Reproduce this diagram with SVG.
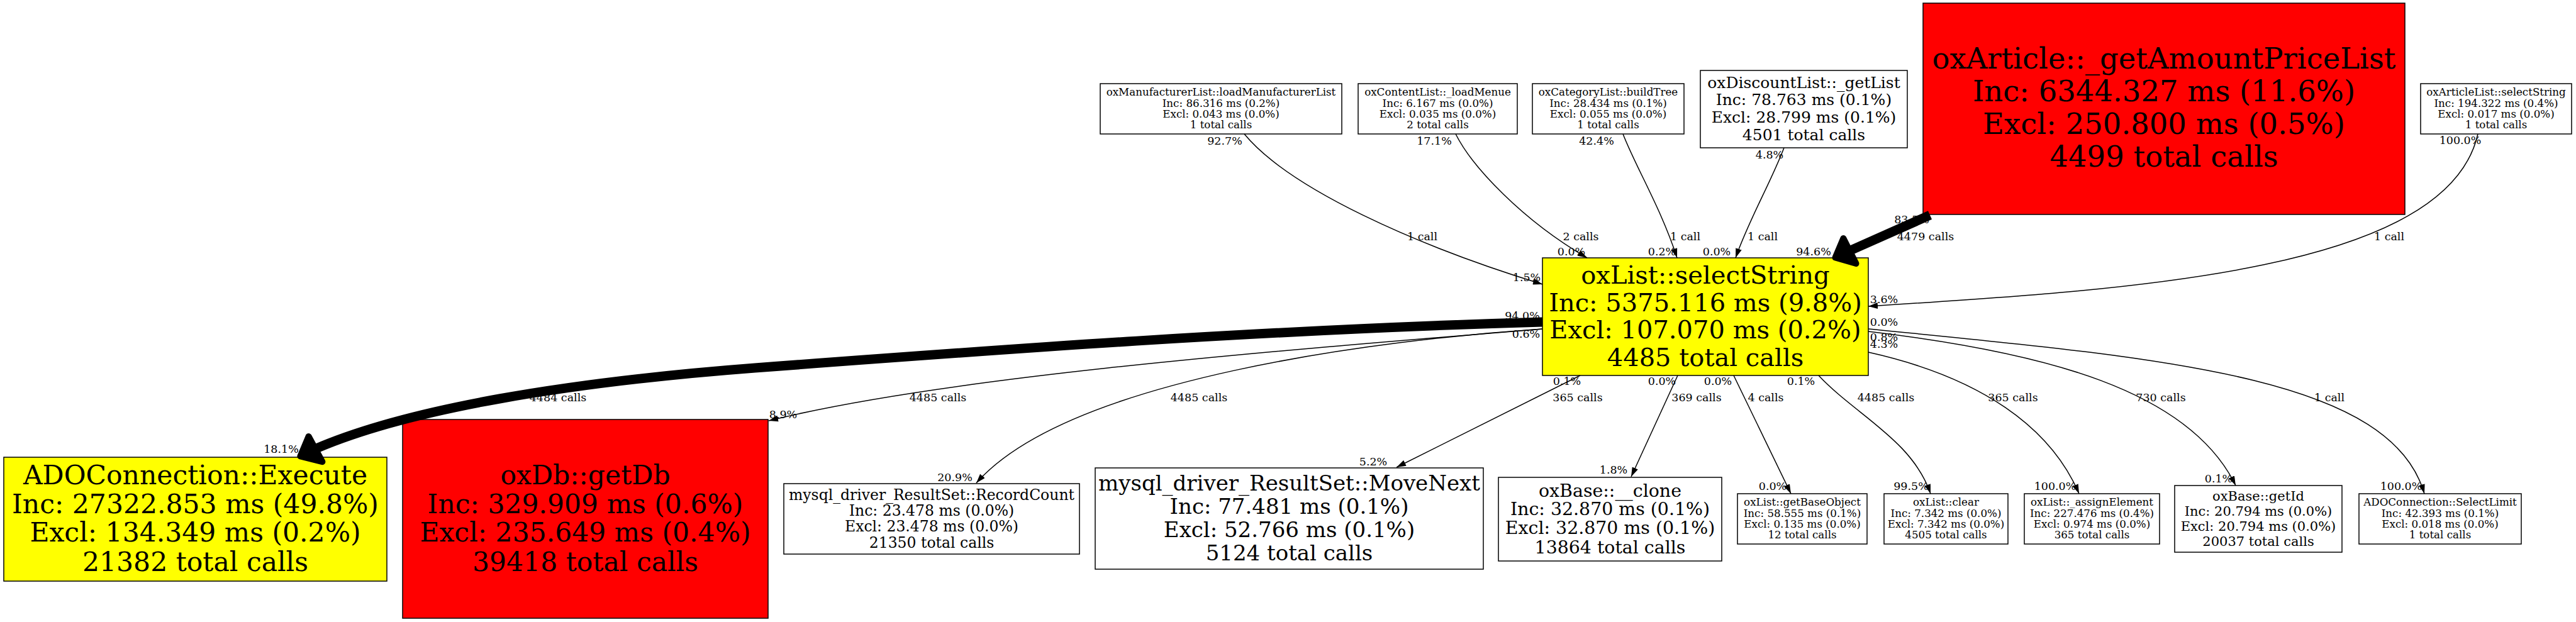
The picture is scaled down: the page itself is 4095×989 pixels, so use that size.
<svg xmlns="http://www.w3.org/2000/svg" width="4095" height="989" viewBox="0 0 4095 989">
<style>
.box{stroke:#000;stroke-width:1.5}
.w{fill:#fff}.r{fill:#ff0000}.y{fill:#ffff00}
text{font-family:"DejaVu Serif","Liberation Serif",serif;text-anchor:middle;fill:#000}
.s{font-size:16.7px}.l{font-size:17.5px}
.e{fill:none;stroke:#000;stroke-width:1.5}
.thick{fill:none;stroke:#000;stroke-width:15}
.head{fill:#000;stroke:#000;stroke-width:10;stroke-linejoin:round}
</style>
<defs>
<marker id="arr" markerUnits="userSpaceOnUse" markerWidth="15" markerHeight="10" refX="15" refY="5" orient="auto"><path d="M0,0 L15,5 L0,10 z" fill="#000"/></marker>
</defs>
<rect width="4095" height="989" fill="#fff"/>
<g id="nodes">
<g id="n_manuf"><rect class="box w" x="1749" y="133" width="384" height="80"/>
<text class="s"><tspan x="1941" y="152">oxManufacturerList::loadManufacturerList</tspan><tspan x="1941" y="169.5">Inc: 86.316 ms (0.2%)</tspan><tspan x="1941" y="187">Excl: 0.043 ms (0.0%)</tspan><tspan x="1941" y="204">1 total calls</tspan></text></g>
<g id="n_content"><rect class="box w" x="2159" y="133" width="253" height="80"/>
<text class="s"><tspan x="2285.5" y="152">oxContentList::_loadMenue</tspan><tspan x="2285.5" y="169.5">Inc: 6.167 ms (0.0%)</tspan><tspan x="2285.5" y="187">Excl: 0.035 ms (0.0%)</tspan><tspan x="2285.5" y="204">2 total calls</tspan></text></g>
<g id="n_category"><rect class="box w" x="2436" y="133" width="241" height="80"/>
<text class="s"><tspan x="2556.5" y="152">oxCategoryList::buildTree</tspan><tspan x="2556.5" y="169.5">Inc: 28.434 ms (0.1%)</tspan><tspan x="2556.5" y="187">Excl: 0.055 ms (0.0%)</tspan><tspan x="2556.5" y="204">1 total calls</tspan></text></g>
<g id="n_discount"><rect class="box w" x="2703" y="112" width="329" height="123"/>
<text style="font-size:25px"><tspan x="2867.5" y="139.5">oxDiscountList::_getList</tspan><tspan x="2867.5" y="167">Inc: 78.763 ms (0.1%)</tspan><tspan x="2867.5" y="195">Excl: 28.799 ms (0.1%)</tspan><tspan x="2867.5" y="222.5">4501 total calls</tspan></text></g>
<g id="n_article"><rect class="box r" x="3057" y="5" width="766" height="336"/>
<text style="font-size:46.5px"><tspan x="3440" y="109">oxArticle::_getAmountPriceList</tspan><tspan x="3440" y="161">Inc: 6344.327 ms (11.6%)</tspan><tspan x="3440" y="213">Excl: 250.800 ms (0.5%)</tspan><tspan x="3440" y="265">4499 total calls</tspan></text></g>
<g id="n_articlelist"><rect class="box w" x="3848" y="133" width="240" height="80"/>
<text class="s"><tspan x="3968" y="152">oxArticleList::selectString</tspan><tspan x="3968" y="169.5">Inc: 194.322 ms (0.4%)</tspan><tspan x="3968" y="187">Excl: 0.017 ms (0.0%)</tspan><tspan x="3968" y="204">1 total calls</tspan></text></g>
<g id="n_select"><rect class="box y" x="2452" y="410" width="518" height="187"/>
<text style="font-size:40px"><tspan x="2711" y="451">oxList::selectString</tspan><tspan x="2711" y="494.5">Inc: 5375.116 ms (9.8%)</tspan><tspan x="2711" y="538">Excl: 107.070 ms (0.2%)</tspan><tspan x="2711" y="581.5">4485 total calls</tspan></text></g>
<g id="n_execute"><rect class="box y" x="6" y="727" width="609" height="197"/>
<text style="font-size:42.5px"><tspan x="310.5" y="769.5">ADOConnection::Execute</tspan><tspan x="310.5" y="815.7">Inc: 27322.853 ms (49.8%)</tspan><tspan x="310.5" y="861.2">Excl: 134.349 ms (0.2%)</tspan><tspan x="310.5" y="907.5">21382 total calls</tspan></text></g>
<g id="n_getdb"><rect class="box r" x="640" y="667" width="581" height="316"/>
<text style="font-size:42.5px"><tspan x="930.5" y="769.5">oxDb::getDb</tspan><tspan x="930.5" y="815.7">Inc: 329.909 ms (0.6%)</tspan><tspan x="930.5" y="861.2">Excl: 235.649 ms (0.4%)</tspan><tspan x="930.5" y="907.5">39418 total calls</tspan></text></g>
<g id="n_recordcount"><rect class="box w" x="1246" y="769" width="470" height="112"/>
<text style="font-size:23.5px"><tspan x="1481" y="795">mysql_driver_ResultSet::RecordCount</tspan><tspan x="1481" y="820">Inc: 23.478 ms (0.0%)</tspan><tspan x="1481" y="845">Excl: 23.478 ms (0.0%)</tspan><tspan x="1481" y="870.5">21350 total calls</tspan></text></g>
<g id="n_movenext"><rect class="box w" x="1741" y="744" width="617" height="161"/>
<text style="font-size:34px"><tspan x="2049.5" y="780">mysql_driver_ResultSet::MoveNext</tspan><tspan x="2049.5" y="817">Inc: 77.481 ms (0.1%)</tspan><tspan x="2049.5" y="854">Excl: 52.766 ms (0.1%)</tspan><tspan x="2049.5" y="890.5">5124 total calls</tspan></text></g>
<g id="n_clone"><rect class="box w" x="2382" y="759" width="355" height="133"/>
<text style="font-size:28.4px"><tspan x="2559.5" y="789.5">oxBase::__clone</tspan><tspan x="2559.5" y="819">Inc: 32.870 ms (0.1%)</tspan><tspan x="2559.5" y="849">Excl: 32.870 ms (0.1%)</tspan><tspan x="2559.5" y="879.5">13864 total calls</tspan></text></g>
<g id="n_getbaseobject"><rect class="box w" x="2762" y="785" width="206" height="80"/>
<text class="s"><tspan x="2865" y="804.3">oxList::getBaseObject</tspan><tspan x="2865" y="821.9">Inc: 58.555 ms (0.1%)</tspan><tspan x="2865" y="839.1">Excl: 0.135 ms (0.0%)</tspan><tspan x="2865" y="856">12 total calls</tspan></text></g>
<g id="n_clear"><rect class="box w" x="2995" y="785" width="197" height="80"/>
<text class="s"><tspan x="3093.5" y="804.3">oxList::clear</tspan><tspan x="3093.5" y="821.9">Inc: 7.342 ms (0.0%)</tspan><tspan x="3093.5" y="839.1">Excl: 7.342 ms (0.0%)</tspan><tspan x="3093.5" y="856">4505 total calls</tspan></text></g>
<g id="n_assign"><rect class="box w" x="3218" y="785" width="215" height="80"/>
<text class="s"><tspan x="3325.5" y="804.3">oxList::_assignElement</tspan><tspan x="3325.5" y="821.9">Inc: 227.476 ms (0.4%)</tspan><tspan x="3325.5" y="839.1">Excl: 0.974 ms (0.0%)</tspan><tspan x="3325.5" y="856">365 total calls</tspan></text></g>
<g id="n_getid"><rect class="box w" x="3457" y="772" width="266" height="106"/>
<text style="font-size:21px"><tspan x="3590" y="796">oxBase::getId</tspan><tspan x="3590" y="819.5">Inc: 20.794 ms (0.0%)</tspan><tspan x="3590" y="843.5">Excl: 20.794 ms (0.0%)</tspan><tspan x="3590" y="867.5">20037 total calls</tspan></text></g>
<g id="n_selectlimit"><rect class="box w" x="3750" y="785" width="258" height="80"/>
<text class="s"><tspan x="3879" y="804.3">ADOConnection::SelectLimit</tspan><tspan x="3879" y="821.9">Inc: 42.393 ms (0.1%)</tspan><tspan x="3879" y="839.1">Excl: 0.018 ms (0.0%)</tspan><tspan x="3879" y="856">1 total calls</tspan></text></g>
</g>
<g id="connectors">
<g id="edge-labels" class="l">
<text class="l" x="1947" y="229.5">92.7%</text>
<text class="l" x="2280" y="229.5">17.1%</text>
<text class="l" x="2538" y="229.5">42.4%</text>
<text class="l" x="2813" y="251.5">4.8%</text>
<text class="l" x="3911" y="228.5">100.0%</text>
<text class="l" x="3039" y="355">83.5%</text>
<text class="l" x="2261" y="381.5">1 call</text>
<text class="l" x="2513" y="381.5">2 calls</text>
<text class="l" x="2679" y="381.5">1 call</text>
<text class="l" x="2802" y="381.5">1 call</text>
<text class="l" x="3061" y="381.5">4479 calls</text>
<text class="l" x="3798" y="381.5">1 call</text>
<text class="l" x="2498" y="405.5">0.0%</text>
<text class="l" x="2642" y="405.5">0.2%</text>
<text class="l" x="2729" y="405.5">0.0%</text>
<text class="l" x="2883" y="405.5">94.6%</text>
<text class="l" x="2427" y="446.5">1.5%</text>
<text class="l" x="2995" y="481.5">3.6%</text>
<text class="l" x="2420" y="508">94.0%</text>
<text class="l" x="2426" y="536.5">0.6%</text>
<text class="l" x="2995" y="518">0.0%</text>
<text class="l" x="2995" y="541.5">0.8%</text>
<text class="l" x="2995" y="553">4.3%</text>
<text class="l" x="2491" y="611.5">0.1%</text>
<text class="l" x="2642" y="611.5">0.0%</text>
<text class="l" x="2731" y="611.5">0.0%</text>
<text class="l" x="2863" y="611.5">0.1%</text>
<text class="l" x="887" y="637.5">4484 calls</text>
<text class="l" x="1491" y="637.5">4485 calls</text>
<text class="l" x="1906" y="637.5">4485 calls</text>
<text class="l" x="2508" y="637.5">365 calls</text>
<text class="l" x="2697" y="637.5">369 calls</text>
<text class="l" x="2807" y="637.5">4 calls</text>
<text class="l" x="2998" y="637.5">4485 calls</text>
<text class="l" x="3200" y="637.5">365 calls</text>
<text class="l" x="3435" y="637.5">730 calls</text>
<text class="l" x="3703" y="637.5">1 call</text>
<text class="l" x="1245" y="664.5">8.9%</text>
<text class="l" x="447" y="719.5">18.1%</text>
<text class="l" x="2183" y="739.5">5.2%</text>
<text class="l" x="2565" y="753">1.8%</text>
<text class="l" x="1518" y="764.5">20.9%</text>
<text class="l" x="3527" y="766.5">0.1%</text>
<text class="l" x="2818" y="778.5">0.0%</text>
<text class="l" x="3038" y="778.5">99.5%</text>
<text class="l" x="3267" y="778.5">100.0%</text>
<text class="l" x="3817" y="778.5">100.0%</text>
</g>
<g id="edges">
<path class="e" marker-end="url(#arr)" d="M1978,213 C2050,300 2250,390 2452,452"/>
<path class="e" marker-end="url(#arr)" d="M2314,213 C2340,265 2420,350 2523,410"/>
<path class="e" marker-end="url(#arr)" d="M2580,213 C2600,265 2640,330 2666,410"/>
<path class="e" marker-end="url(#arr)" d="M2836,235 C2815,290 2780,350 2759,410"/>
<path class="e" marker-end="url(#arr)" d="M3939,213 C3890,430 3400,460 2970,487"/>
<path class="thick" d="M3068,342 L2942,398"/>
<polygon class="head" points="2930.4,379 2917.5,409.5 2950.5,419"/>
<path class="thick" d="M2452,512 C2000,525 1600,555 1200,585 C900,608 650,650 503,713"/>
<polygon class="head" points="490.6,694 477.4,725.4 512.4,734.2"/>
<path class="e" marker-end="url(#arr)" d="M2452,523 C2000,560 1500,600 1222,669"/>
<path class="e" marker-end="url(#arr)" d="M2452,523 C2200,540 1700,600 1552,768"/>
<path class="e" marker-end="url(#arr)" d="M2512,597 L2220,743"/>
<path class="e" marker-end="url(#arr)" d="M2667,597 L2593,758"/>
<path class="e" marker-end="url(#arr)" d="M2756,597 L2847,785"/>
<path class="e" marker-end="url(#arr)" d="M2891,597 C2950,660 3040,700 3069,785"/>
<path class="e" marker-end="url(#arr)" d="M2970,560 C3150,600 3260,680 3305,785"/>
<path class="e" marker-end="url(#arr)" d="M2970,527 C3250,560 3480,620 3554,772"/>
<path class="e" marker-end="url(#arr)" d="M2970,523 C3450,570 3800,600 3854,785"/>
</g>
</g>
</svg>
